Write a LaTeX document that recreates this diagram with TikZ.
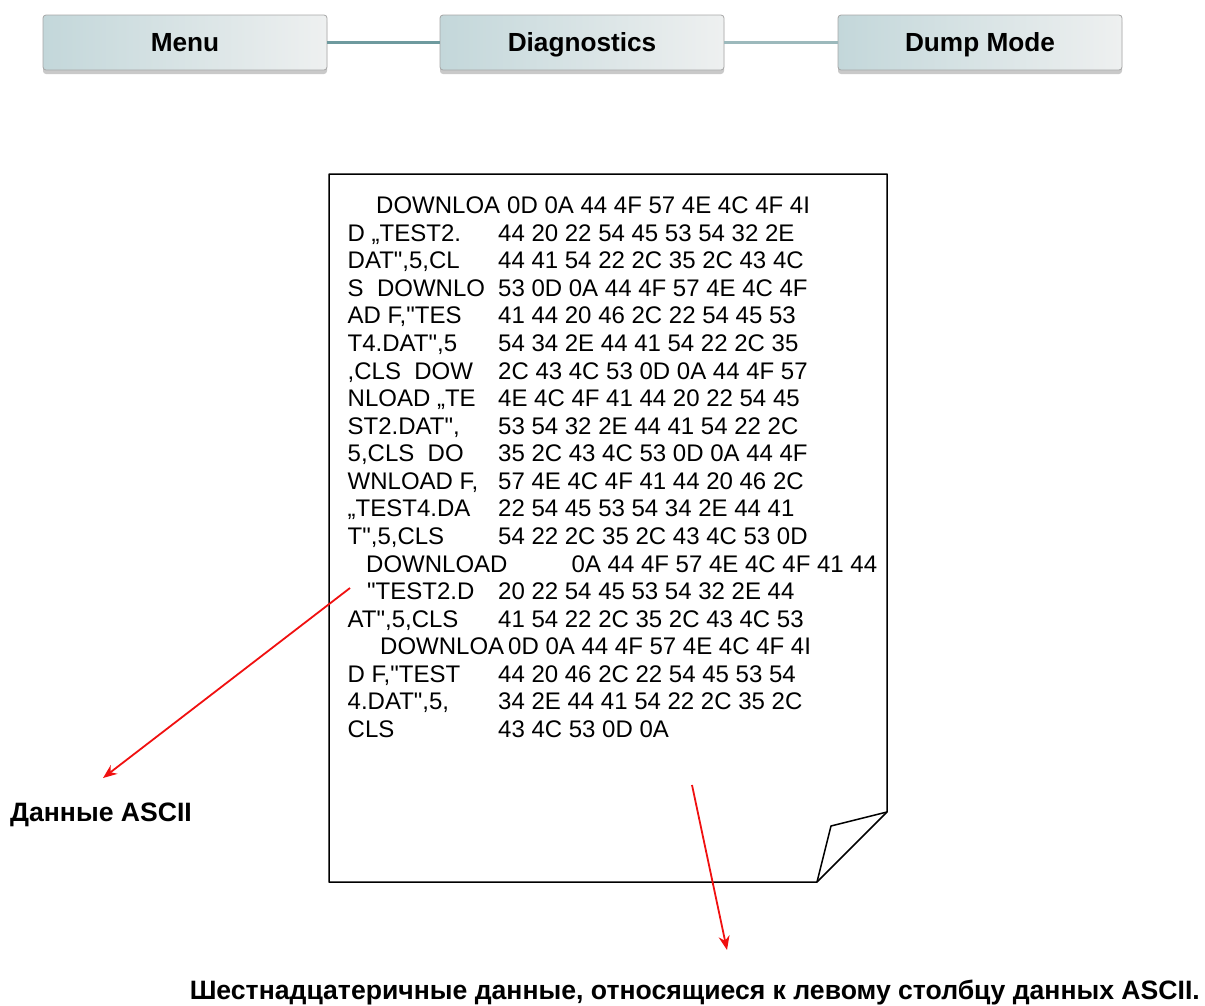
\documentclass[tikz,border=0pt]{standalone}
\usepackage{fontspec}
\setmainfont{Liberation Sans}[Ligatures=TeXOff]
\usetikzlibrary{arrows.meta,shadows}
\definecolor{btnL}{HTML}{C3D7DA}
\definecolor{btnR}{HTML}{EEF0F0}
\definecolor{linkA}{HTML}{6E9A9E}
\definecolor{linkB}{HTML}{9CB9BC}
\definecolor{arrred}{HTML}{F01010}
\begin{document}
\begin{tikzpicture}[x=1pt,y=-1pt,
  btn/.style={draw=black!35, line width=0.8pt, rounded corners=3pt,
    left color=btnL, right color=btnR, minimum width=284pt, minimum height=55pt,
    inner sep=0pt, text height=18.6pt, text depth=0pt,
    font=\fontsize{26.2}{30}\selectfont\bfseries,
    drop shadow={shadow xshift=0pt,shadow yshift=-4pt,opacity=0.3,fill=black!70}},
  link/.style={line width=3pt},
  txt/.style={anchor=base west, inner sep=0pt, font=\fontsize{24}{28}\selectfont},
  lab/.style={inner sep=0pt, font=\fontsize{26.6}{30}\selectfont\bfseries},
  redarrow/.style={draw=arrred, line width=1.8pt, -{Stealth[length=14pt,width=11pt]}},
  page/.style={draw=black, line width=1.5pt, line join=round}]
\useasboundingbox (0,0) rectangle (1205,1005);

% buttons
\node[btn] (menu) at (185,42.5) {Menu};
\node[btn] (diag) at (582,42.5) {Diagnostics};
\node[btn] (dump) at (980,42.5) {Dump Mode};
\draw[link, linkA] (menu.east) -- (diag.west);
\draw[link, linkB] (diag.east) -- (dump.west);

% page
\draw[page, fill=white] (329,174) -- (887,174) -- (887,812) -- (817,882) -- (329,882) -- cycle;
\draw[page] (887,812) -- (831,826) -- (817,882);

% text lines
\node[txt] (l1) at (376,213.5) {DOWNLOA};
\node[txt] (h1) at (507,213.5) {0D 0A 44 4F 57 4E 4C 4F 4I};
\node[txt] (l2) at (347.5,241.1) {D „TEST2.};
\node[txt] (h2) at (498,241.1) {44 20 22 54 45 53 54 32 2E};
\node[txt] (l3) at (347.5,268.7) {DAT",5,CL};
\node[txt] (h3) at (498,268.7) {44 41 54 22 2C 35 2C 43 4C};
\node[txt] (l4) at (347.5,296.2) {S\ \ DOWNLO};
\node[txt] (h4) at (498,296.2) {53 0D 0A 44 4F 57 4E 4C 4F};
\node[txt] (l5) at (347.5,323.8) {AD F,"TES};
\node[txt] (h5) at (498,323.8) {41 44 20 46 2C 22 54 45 53};
\node[txt] (l6) at (347.5,351.4) {T4.DAT",5};
\node[txt] (h6) at (498,351.4) {54 34 2E 44 41 54 22 2C 35};
\node[txt] (l7) at (347.5,379.0) {,CLS\ \ DOW};
\node[txt] (h7) at (498,379.0) {2C 43 4C 53 0D 0A 44 4F 57};
\node[txt] (l8) at (347.5,406.6) {NLOAD „TE};
\node[txt] (h8) at (498,406.6) {4E 4C 4F 41 44 20 22 54 45};
\node[txt] (l9) at (347.5,434.1) {ST2.DAT",};
\node[txt] (h9) at (498,434.1) {53 54 32 2E 44 41 54 22 2C};
\node[txt] (l10) at (347.5,461.7) {5,CLS\ \ DO};
\node[txt] (h10) at (498,461.7) {35 2C 43 4C 53 0D 0A 44 4F};
\node[txt] (l11) at (347.5,489.3) {WNLOAD F,};
\node[txt] (h11) at (498,489.3) {57 4E 4C 4F 41 44 20 46 2C};
\node[txt] (l12) at (347.5,516.9) {„TEST4.DA};
\node[txt] (h12) at (498,516.9) {22 54 45 53 54 34 2E 44 41};
\node[txt] (l13) at (347.5,544.5) {T",5,CLS};
\node[txt] (h13) at (498,544.5) {54 22 2C 35 2C 43 4C 53 0D};
\node[txt] (l14) at (366,572.0) {DOWNLOAD};
\node[txt] (h14) at (571.5,572.0) {0A 44 4F 57 4E 4C 4F 41 44};
\node[txt] (l15) at (367,599.6) {"TEST2.D};
\node[txt] (h15) at (498,599.6) {20 22 54 45 53 54 32 2E 44};
\node[txt] (l16) at (347.5,627.2) {AT",5,CLS};
\node[txt] (h16) at (498,627.2) {41 54 22 2C 35 2C 43 4C 53};
\node[txt] (l17) at (380,654.8) {DOWNLOA};
\node[txt] (h17) at (508,654.8) {0D 0A 44 4F 57 4E 4C 4F 4I};
\node[txt] (l18) at (347.5,682.4) {D F,"TEST};
\node[txt] (h18) at (498,682.4) {44 20 46 2C 22 54 45 53 54};
\node[txt] (l19) at (347.5,709.9) {4.DAT",5,};
\node[txt] (h19) at (498,709.9) {34 2E 44 41 54 22 2C 35 2C};
\node[txt] (l20) at (347.5,737.5) {CLS};
\node[txt] (h20) at (498,737.5) {43 4C 53 0D 0A};

% labels
\node[lab, anchor=west] (ascii) at (10,815) {Данные ASCII};
\node[lab, anchor=east] (hexlab) at (1200,992) {Шестнадцатеричные данные, относящиеся к левому столбцу данных ASCII.};

% arrows
\coordinate (a1s) at (350,588);
\coordinate (a1e) at (103,778);
\coordinate (a2s) at (692,785);
\coordinate (a2e) at (727,950);
\draw[redarrow] (a1s) -- (a1e);
\draw[redarrow] (a2s) -- (a2e);
\end{tikzpicture}
\end{document}
